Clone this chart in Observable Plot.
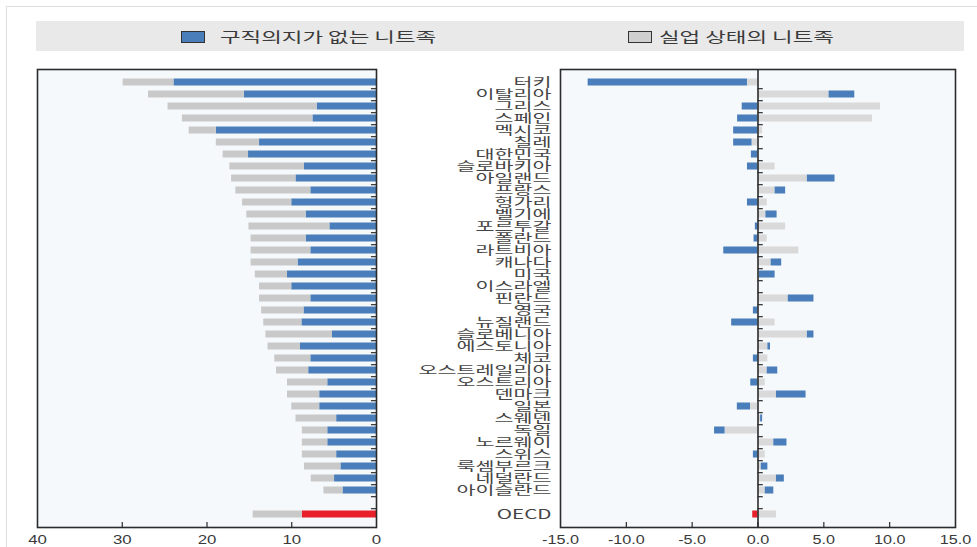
<!DOCTYPE html>
<html>
<head>
<meta charset="utf-8">
<script src="https://cdn.jsdelivr.net/npm/d3@7"></script>
<script src="https://cdn.jsdelivr.net/npm/@observablehq/plot@0.6"></script>
<style>
  body { margin: 0; background: #fff; overflow: hidden; font-family: "Liberation Sans", Arial, "Noto Sans CJK KR", sans-serif; color: #3a3a3a; }
  #wrap { position: relative; width: 977px; height: 547px; overflow: hidden; }
  #border { position: absolute; left: 6px; top: 6px; width: 1000px; height: 600px; border: 1px solid #dedede; }
  #legend { position: absolute; left: 36px; top: 21px; width: 928px; height: 30px; background: #e9e9e9; }
  .sw { position: absolute; top: 10px; width: 22px; height: 10px; border: 1px solid #333; }
  .lt { position: absolute; top: 5px; font-family: "Noto Sans CJK KR", sans-serif; font-size: 14px; line-height: 20px; white-space: nowrap; color: #3a3a3a; transform: scaleX(1.6); transform-origin: 0 50%; }
  .chart { position: absolute; left: 0; top: 0; }
</style>
</head>
<body>
<div id="wrap">
  <div id="border"></div>
  <div id="legend"></div>
  <div id="left" class="chart"></div>
  <div id="right" class="chart"></div>
</div>
<script>
// ---- data ----
const countries = ["터키","이탈리아","그리스","스페인","멕시코","칠레","대한민국","슬로바키아","아일랜드","프랑스",
  "헝가리","벨기에","포르투갈","폴란드","라트비아","캐나다","미국","이스라엘","핀란드","영국",
  "뉴질랜드","슬로베니아","에스토니아","체코","오스트레일리아","오스트리아","덴마크","일본","스웨덴","독일",
  "노르웨이","스위스","룩셈부르크","네덜란드","아이슬란드"];
// level (% of youth), left panel
const inactiveLevel   = [23.9,15.6,7.0,7.5,18.9,13.8,15.1,8.5,9.5,7.75,10.0,8.3,5.5,8.3,7.75,9.25,10.5,10.0,7.75,8.55,8.8,5.2,9.0,7.75,8.0,5.75,6.7,6.7,4.7,5.75,5.75,4.7,4.2,4.95,3.95];
const unemployedLevel = [6.0,11.3,17.6,15.4,3.2,5.1,3.0,8.8,7.6,8.85,5.8,7.0,9.55,6.5,7.05,5.55,3.8,3.8,6.05,5.0,4.5,7.85,3.8,4.25,3.8,4.75,3.8,3.3,4.8,3.0,3.0,4.05,4.3,2.75,2.25];
const oecdLevel = [8.75, 5.8];            // [inactive, unemployed]
// change (percentage points), right panel
const inactiveChange   = [-12.1,1.95,-1.2,-1.55,-1.85,-1.4,-0.5,-0.8,2.1,0.8,-0.8,0.85,-0.2,-0.3,-2.6,0.8,1.2,null,1.95,-0.35,-2.0,0.5,0.2,-0.35,0.8,-0.55,2.25,-1.0,0.15,-0.8,1.0,-0.35,0.5,0.6,0.65];
const unemployedChange = [-0.8,5.4,9.3,8.7,0.35,-0.45,0,1.3,3.75,1.3,0.7,0.6,2.1,0.7,3.1,1.0,0.1,null,2.3,0,1.3,3.75,0.75,0.75,0.7,0.55,1.4,-0.57,0.2,-2.5,1.2,0.55,0.25,1.4,0.55];
const oecdChange = [-0.4, 1.4];           // [inactive, unemployed]
const levelTicks = [40, 30, 20, 10, 0];
const changeTicks = [-15, -10, -5, 0, 5, 10, 15];
const legendLabels = ["구직의지가 없는 니트족", "실업 상태의 니트족"];

// ---- styles ----
const BLUE = "#4a7ebb", GRAY_L = "#c9c9c9", GRAY_R = "#d9d9d9", RED = "#e8202a", BG = "#f5f9fc", INK = "#2b2b2b";
const FONT = '"Liberation Sans", Arial, "Noto Sans CJK KR", sans-serif';
const W = 977, H = 547, MT = 69, MB = 20;
const GAP = "gap";
const domain = [...countries, GAP, "OECD"];
const step = (H - MT - MB) / domain.length;

// ---- tables ----
const levelRows = [];
countries.forEach((c, i) => {
  levelRows.push({country: c, value: inactiveLevel[i], fill: BLUE});
  levelRows.push({country: c, value: unemployedLevel[i], fill: GRAY_L});
});
levelRows.push({country: "OECD", value: oecdLevel[0], fill: RED});
levelRows.push({country: "OECD", value: oecdLevel[1], fill: GRAY_L});

const changeRows = [];
countries.forEach((c, i) => {
  if (unemployedChange[i] != null) changeRows.push({country: c, value: unemployedChange[i], fill: GRAY_R});
  if (inactiveChange[i] != null) changeRows.push({country: c, value: inactiveChange[i], fill: BLUE});
});
changeRows.push({country: "OECD", value: oecdChange[1], fill: GRAY_R});
changeRows.push({country: "OECD", value: oecdChange[0], fill: RED});

// ---- legend ----
const legend = document.getElementById("legend");
[[145, 184, BLUE, legendLabels[0]], [592, 623, "#cfcfcf", legendLabels[1]]].forEach(([sx, tx, col, txt]) => {
  const s = document.createElement("div"); s.className = "sw"; s.style.left = sx + "px"; s.style.background = col; legend.appendChild(s);
  const t = document.createElement("div"); t.className = "lt"; t.style.left = tx + "px"; t.textContent = txt; legend.appendChild(t);
});

// stretch axis texts horizontally like the reference
function stretch(svg, sel, font, family, factor, fill) {
  svg.querySelectorAll(sel).forEach(g => {
    g.setAttribute("font-size", font);
    if (family) g.setAttribute("font-family", family);
    if (fill) g.setAttribute("fill", fill);
    g.querySelectorAll("text").forEach(t => {
      const w = t.getComputedTextLength();
      if (w > 0) { t.setAttribute("textLength", (w * factor).toFixed(1)); t.setAttribute("lengthAdjust", "spacingAndGlyphs"); }
    });
  });
}

// ---- left panel: level ----
const leftRight = 376;
const left = Plot.plot({
  width: W, height: H,
  marginLeft: 37, marginRight: W - leftRight, marginTop: MT, marginBottom: MB,
  style: {background: "transparent", fontFamily: FONT, color: "#3a3a3a", overflow: "visible"},
  color: {type: "identity"},
  x: {domain: [40, 0], ticks: levelTicks, tickSize: 0, tickPadding: 8, label: null, tickFormat: d => String(d)},
  y: {domain, padding: 0, axis: null},
  marks: [
    Plot.frame({fill: BG}),
    Plot.barX(levelRows, Plot.stackX({x: "value", y: "country", fill: "fill", insetTop: 2.5, insetBottom: 2.5})),
    Plot.ruleY(domain.slice(0, -1), {x1: 0, x2: 0.6, dy: step / 2, stroke: INK, strokeWidth: 1.2}),
    Plot.tickX(levelTicks.slice(1, -1), {x: d => d, insetTop: H - MT - MB - 5, stroke: INK, strokeWidth: 1.2}),
    Plot.frame({stroke: INK, strokeWidth: 1.6})
  ]
});
document.getElementById("left").appendChild(left);
stretch(left, 'g[aria-label^="x-axis"]', 12, null, 1.4);

// ---- right panel: change ----
const rightLeft = 560, rightRight = 955;
const right = Plot.plot({
  width: W, height: H,
  marginLeft: rightLeft, marginRight: W - rightRight, marginTop: MT, marginBottom: MB,
  style: {background: "transparent", fontFamily: FONT, color: "#3a3a3a", overflow: "visible"},
  color: {type: "identity"},
  x: {domain: [-15, 15], ticks: changeTicks, tickSize: 0, tickPadding: 8, label: null, tickFormat: d => d.toFixed(1)},
  y: {domain, padding: 0, tickSize: 0, tickPadding: 9, label: null, tickFormat: d => d === GAP ? "" : d},
  marks: [
    Plot.frame({fill: BG}),
    Plot.barX(changeRows, Plot.stackX({x: "value", y: "country", fill: "fill", insetTop: 2.5, insetBottom: 2.5})),
    Plot.ruleX([0], {stroke: INK, strokeWidth: 1.6}),
    Plot.ruleY(domain.slice(0, -1), {x1: 0, x2: 0.4, dy: step / 2, stroke: INK, strokeWidth: 1.2}),
    Plot.tickX(changeTicks.slice(1, -1), {x: d => d, insetTop: H - MT - MB - 5, stroke: INK, strokeWidth: 1.2}),
    Plot.frame({stroke: INK, strokeWidth: 1.6})
  ]
});
document.getElementById("right").appendChild(right);
stretch(right, 'g[aria-label^="x-axis"]', 12, null, 1.35);
stretch(right, 'g[aria-label^="y-axis"]', 12.5, '"Noto Sans CJK KR", sans-serif', 1.65, "#444");
</script>
</body>
</html>
